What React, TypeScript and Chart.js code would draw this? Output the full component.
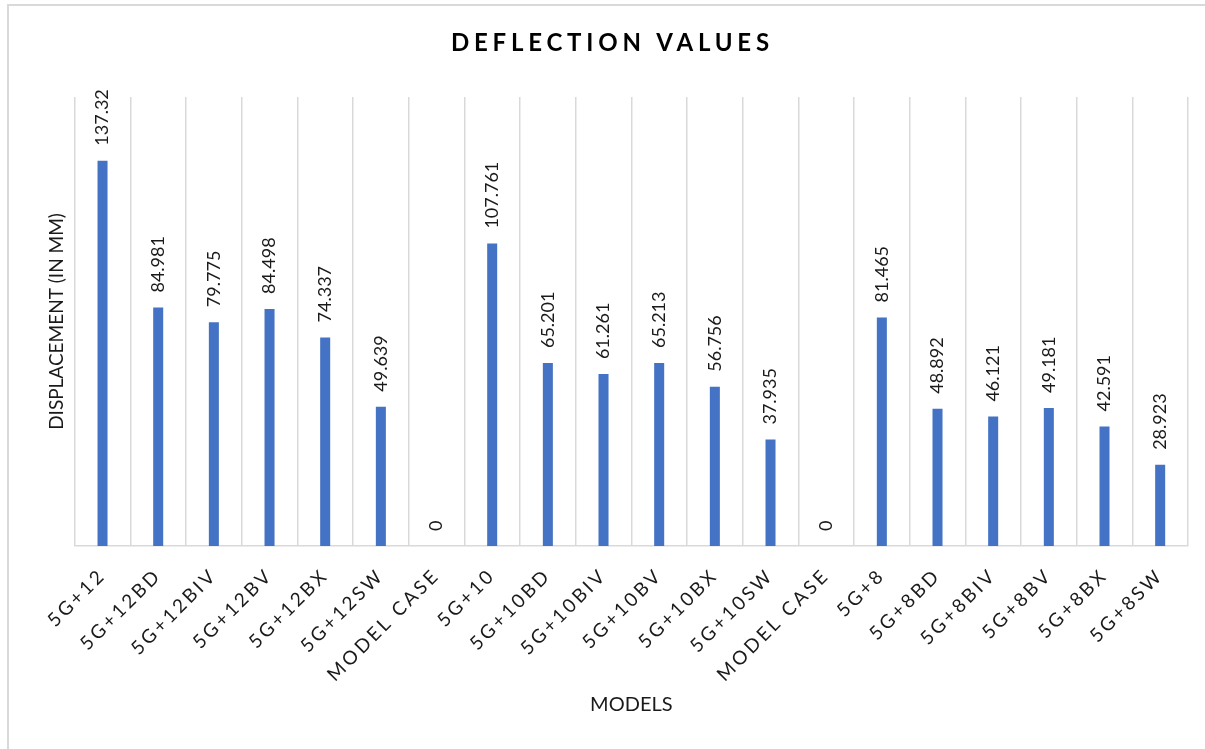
import React, { useEffect, useRef } from "react";
import { Chart, registerables } from "chart.js";

Chart.register(...registerables);

// ---- Data ----
const categories: string[] = [
  "5G+12", "5G+12BD", "5G+12BIV", "5G+12BV", "5G+12BX", "5G+12SW", "MODEL CASE",
  "5G+10", "5G+10BD", "5G+10BIV", "5G+10BV", "5G+10BX", "5G+10SW", "MODEL CASE",
  "5G+8", "5G+8BD", "5G+8BIV", "5G+8BV", "5G+8BX", "5G+8SW",
];
const deflection: number[] = [
  137.32, 84.981, 79.775, 84.498, 74.337, 49.639, 0,
  107.761, 65.201, 61.261, 65.213, 56.756, 37.935, 0,
  81.465, 48.892, 46.121, 49.181, 42.591, 28.923,
];
const chartTitle = "DEFLECTION VALUES";
const xAxisTitle = "MODELS";
const yAxisTitle = "DISPLACEMENT (IN MM)";
const yMin = 0;
const yMax = 160;

// ---- Styles ----
const FONT = "Lato, Carlito, 'Open Sans', sans-serif";
const BAR_COLOR = "#4472C4";
const GRID_COLOR = "#d9d9d9";
const TEXT_COLOR = "#1a1a1a";

const excelPlugin = {
  id: "excelStyle",
  beforeDraw(chart: any) {
    const ctx = chart.ctx as CanvasRenderingContext2D;
    ctx.save();
    ctx.fillStyle = "#ffffff";
    ctx.fillRect(0, 0, chart.width, chart.height);
    ctx.strokeStyle = GRID_COLOR;
    ctx.lineWidth = 2;
    ctx.beginPath();
    ctx.moveTo(8, chart.height);
    ctx.lineTo(8, 5);
    ctx.lineTo(chart.width, 5);
    ctx.stroke();
    ctx.restore();
    (ctx as any).letterSpacing = "0px";
  },
  afterDatasetsDraw(chart: any) {
    const ctx = chart.ctx as CanvasRenderingContext2D;
    const meta = chart.getDatasetMeta(0);
    ctx.save();
    (ctx as any).letterSpacing = "0px";
    ctx.font = `18px ${FONT}`;
    ctx.fillStyle = TEXT_COLOR;
    ctx.textAlign = "left";
    ctx.textBaseline = "middle";
    meta.data.forEach((bar: any, i: number) => {
      const { x, y } = bar.getProps(["x", "y"], true);
      ctx.save();
      ctx.translate(x, y - 15);
      ctx.rotate(-Math.PI / 2);
      ctx.fillText(String(deflection[i]), 0, 0);
      ctx.restore();
    });
    ctx.restore();
    // spacing for the x tick labels drawn on the layer above datasets
    (ctx as any).letterSpacing = "3px";
  },
  afterDraw(chart: any) {
    const ctx = chart.ctx as CanvasRenderingContext2D;
    ctx.save();
    (ctx as any).letterSpacing = "4.8px";
    ctx.font = `bold 24px ${FONT}`;
    ctx.fillStyle = "#000000";
    ctx.textAlign = "center";
    ctx.textBaseline = "middle";
    ctx.fillText(chartTitle, 610 + 2.4, 43);
    ctx.restore();
    (ctx as any).letterSpacing = "0px";
  },
};

export default function App() {
  const canvasRef = useRef<HTMLCanvasElement | null>(null);

  useEffect(() => {
    if (!canvasRef.current) return;
    const chart = new Chart(canvasRef.current, {
      type: "bar",
      data: {
        labels: categories,
        datasets: [
          {
            label: "Deflection",
            data: deflection,
            backgroundColor: BAR_COLOR,
            borderWidth: 0,
            categoryPercentage: 1,
            barPercentage: 0.18,
          },
        ],
      },
      options: {
        animation: false,
        responsive: true,
        maintainAspectRatio: false,
        layout: { padding: { left: 40, right: 17, top: 97, bottom: 32 } },
        plugins: {
          legend: { display: false },
          tooltip: { enabled: false },
          title: { display: false },
        },
        scales: {
          x: {
            offset: true,
            grid: { display: true, offset: true, color: GRID_COLOR, lineWidth: 1.5, drawTicks: false },
            border: { display: true, color: GRID_COLOR, width: 1.5 },
            ticks: {
              autoSkip: false,
              minRotation: 45,
              maxRotation: 45,
              padding: 18,
              color: TEXT_COLOR,
              font: { family: FONT, size: 19 },
              z: 1,
            },
            title: {
              display: true,
              text: xAxisTitle,
              color: TEXT_COLOR,
              font: { family: FONT, size: 20 },
              padding: { top: 0, bottom: 0 },
            },
            afterFit(scale: any) {
              scale.height = 171;
            },
          },
          y: {
            min: yMin,
            max: yMax,
            ticks: { display: false },
            grid: { display: false },
            border: { display: false },
            title: {
              display: true,
              text: yAxisTitle,
              color: TEXT_COLOR,
              font: { family: FONT, size: 19 },
              padding: { top: 5, bottom: 0 },
            },
            afterFit(scale: any) {
              scale.width = 34.7;
            },
          },
        },
      },
      plugins: [excelPlugin],
    });
    return () => chart.destroy();
  }, []);

  return (
    <div style={{ position: "absolute", left: 0, top: 0, width: 1205, height: 749, background: "#fff" }}>
      <canvas ref={canvasRef} />
    </div>
  );
}
